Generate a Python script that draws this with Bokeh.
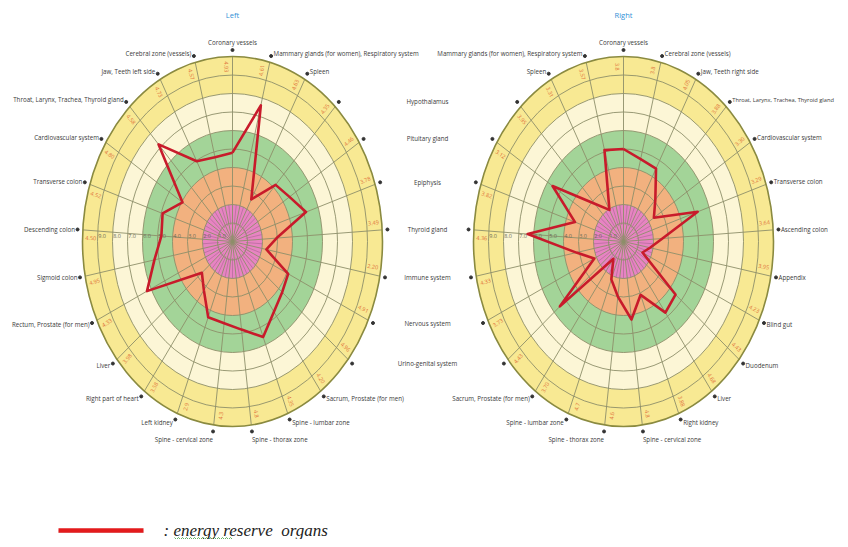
import math
import numpy as np
from bokeh.plotting import figure
from bokeh.models import Range1d, Label
from bokeh.embed import file_html
from bokeh.resources import INLINE
from bokeh.core.properties import value

# ---------------- data ----------------
left_organs = ["Coronary vessels", "Mammary glands (for women), Respiratory system", "Spleen",
               "Hypothalamus", "Pituitary gland", "Epiphysis", "Thyroid gland", "Immune system",
               "Nervous system", "Urino-genital system", "Sacrum, Prostate (for men)",
               "Spine - lumbar zone", "Spine - thorax zone", "Spine - cervical zone", "Left kidney",
               "Right part of heart", "Liver", "Rectum, Prostate (for men)", "Sigmoid colon",
               "Descending colon", "Transverse colon", "Cardiovascular system",
               "Throat, Larynx, Trachea, Thyroid gland", "Jaw, Teeth left side", "Cerebral zone (vessels)"]
left_values = [4.8, 7.6, 2.6, 4.2, 4.5, 5.15, 2.95, 2.3, 4.1, 4.3, 4.7, 5.55, 4.8, 4.45, 4.4,
               3.25, 2.65, 6.3, 5.3, 4.75, 4.9, 3.95, 7.2, 4.95, 4.7]
left_marks = ["4.93", "4.61", "4.63", "4.35", "4.46", "3.78", "3.49", "2.20", "4.91", "4.96",
              "4.20", "4.35", "4.8", "4.3", "2.9", "3.58", "3.98", "4.33", "4.95", "4.50",
              "4.52", "4.80", "4.58", "4.73", "4.57"]

right_organs = ["Coronary vessels", "Cerebral zone (vessels)", "Jaw, Teeth right side",
                "Throat, Larynx, Trachea, Thyroid gland", "Cardiovascular system", "Transverse colon",
                "Ascending colon", "Appendix", "Blind gut", "Duodenum", "Liver", "Right kidney",
                "Spine - cervical zone", "Spine - thorax zone", "Spine - lumbar zone",
                "Sacrum, Prostate (for men)", "Urino-genital system", "Nervous system", "Immune system",
                "Thyroid gland", "Epiphysis", "Pituitary gland", "Hypothalamus", "Spleen",
                "Mammary glands (for women), Respiratory system"]
right_values = [5.0, 4.6, 4.5, 3.1, 2.4, 5.2, 2.6, 1.8, 1.4, 4.5, 4.75, 3.1, 4.25, 3.0, 2.2,
                1.15, 5.5, 2.15, 3.2, 6.4, 3.4, 5.6, 2.8, 1.95, 5.1]
right_marks = ["3.8", "3.8", "4.05", "3.88", "3.30", "3.29", "3.64", "3.95", "4.23", "4.43",
               "4.68", "3.88", "4.8", "4.6", "4.7", "3.70", "4.43", "3.73", "4.33", "4.36",
               "3.82", "3.12", "3.95", "3.31", "3.57"]

ring_ticks = [9, 8, 7, 6, 5, 4, 3, 2, 1]
ring_labels = ["9.0", "8.0", "7.0", "6.0", "5.0", "4.0", "3.0", "2.0", "1.0"]
band_outer = [10, 8, 6, 4, 2]
band_colors = ["#f8e993", "#fcf6d6", "#a3d498", "#f2b17f", "#e784c2"]
r_max = 10
titles = ["Left", "Right"]
legend_label = ": energy reserve\u00a0 organs"

# ---------------- layout ----------------
W, H = 840, 539
SX, SY = 15.0, 18.5          # px per radial unit (x, y)
FONT = value("Open Sans")
LBL = 6.2                    # label font size in px


def fx(X):
    return X


def fy(Y):
    return H - Y


p = figure(width=W, height=H, x_range=Range1d(0, W), y_range=Range1d(0, H),
           toolbar_location=None, output_backend="svg", min_border=0,
           x_axis_location=None, y_axis_location=None)
p.grid.visible = False
p.outline_line_color = None
p.background_fill_color = "white"
p.border_fill_color = "white"


def pol(cx, cy, r, deg):
    t = math.radians(deg)
    return cx + r * SX * math.sin(t), cy + r * SY * math.cos(t)


def draw_chart(cx, cy, organs, vals, marks, skip_labels, title):
    n = len(organs)
    step = 360.0 / n
    for rr, col in zip(band_outer, band_colors):
        p.ellipse(x=[cx], y=[cy], width=[2 * rr * SX], height=[2 * rr * SY],
                  fill_color=col, line_color=None)
    xs, ys = [], []
    for i in range(n):
        a = (i + 0.5) * step
        x0, y0 = pol(cx, cy, 0.9, a)
        x1, y1 = pol(cx, cy, 2.0, a)
        xs.append([x0, x1]); ys.append([y0, y1])
    p.multi_line(xs, ys, line_color="#b06a98", line_width=0.7)
    rings = list(range(1, r_max))
    p.ellipse(x=[cx] * len(rings), y=[cy] * len(rings),
              width=[2 * r * SX for r in rings], height=[2 * r * SY for r in rings],
              fill_color=None, line_color="#8d8f6a", line_width=0.9)
    xs, ys = [], []
    for i in range(n):
        x1, y1 = pol(cx, cy, r_max, i * step)
        xs.append([cx, x1]); ys.append([cy, y1])
    p.multi_line(xs, ys, line_color="#8d8f6a", line_width=0.9)
    p.ellipse(x=[cx], y=[cy], width=[2 * r_max * SX], height=[2 * r_max * SY],
              fill_color=None, line_color="#8a8a40", line_width=1.6)
    p.text(x=[cx - (v - 0.3) * SX for v in ring_ticks], y=[cy + 6] * len(ring_ticks),
           text=ring_labels, text_font=FONT, text_font_size="5.5px", text_color="#6a6a55",
           text_align="center", text_baseline="middle")
    mx, my, ma = [], [], []
    for i in range(n):
        a = i * step - 2.5
        x, y = pol(cx, cy, 9.45, a)
        t = math.radians(a)
        phi = math.atan2(SY * math.cos(t), SX * math.sin(t))
        if phi > math.pi / 2:
            phi -= math.pi
        if phi < -math.pi / 2:
            phi += math.pi
        mx.append(x); my.append(y); ma.append(phi)
    p.text(x=mx, y=my, text=marks, angle=ma, text_font=FONT, text_font_size="5.5px",
           text_color="#e0703a", text_align="center", text_baseline="middle")
    px = [pol(cx, cy, v, i * step)[0] for i, v in enumerate(vals)]
    py = [pol(cx, cy, v, i * step)[1] for i, v in enumerate(vals)]
    p.line(px + px[:1], py + py[:1], line_color="#c81b2b", line_width=2.6, line_join="round")
    dx, dy = [], []
    groups = {"left": ([], [], [], []), "right": ([], [], [], []), "center": ([], [], [], [])}
    for i in range(n):
        a = i * step
        x, y = pol(cx, cy, 10.35, a)
        dx.append(x); dy.append(y)
        if i in skip_labels:
            continue
        s, c = math.sin(math.radians(a)), math.cos(math.radians(a))
        if abs(s) < 0.05:
            g = "center"; tx, ty = x, y + 8
        elif c < -0.97:
            g = "left" if s > 0 else "right"; tx, ty = x, y - 8
        elif s > 0:
            g = "left"; tx, ty = x + 2.5, y + 3 * c
        else:
            g = "right"; tx, ty = x - 2.5, y + 3 * c
        size = LBL
        if g == "left":
            est = len(organs[i]) * LBL * 0.49
            if tx + est > W - 2:
                size = LBL * (W - 2 - tx) / est
        groups[g][0].append(tx); groups[g][1].append(ty)
        groups[g][2].append(organs[i]); groups[g][3].append("%.2fpx" % size)
    p.scatter(dx, dy, size=3, color="#333333")
    for g, (gx, gy, gt, gs) in groups.items():
        if gx:
            p.text(x=gx, y=gy, text=gt, text_font=FONT, text_font_size=gs,
                   text_color="#3a3a3a", text_align=g, text_baseline="middle")
    p.text(x=[cx], y=[fy(14)], text=[title], text_font=FONT, text_font_size="7.5px",
           text_color="#2f8fd6", text_align="center", text_baseline="middle")
    return dy


cyL = fy(241)
cxL, cxR = fx(232), fx(623)
mid = list(range(3, 10))
dotsL = draw_chart(cxL, cyL, left_organs, left_values, left_marks, mid, titles[0])
draw_chart(cxR, cyL, right_organs, right_values, right_marks, list(range(16, 23)), titles[1])

p.text(x=[fx(427)] * len(mid), y=[dotsL[i] for i in mid], text=[left_organs[i] for i in mid],
       text_font=FONT, text_font_size="%.1fpx" % LBL, text_color="#3a3a3a",
       text_align="center", text_baseline="middle")

# legend
p.line([fx(58), fx(143)], [fy(531), fy(531)], line_color="#bdbdbd", line_width=3, alpha=0.5)
p.line([fx(58), fx(143)], [fy(530), fy(530)], line_color="#e31a1c", line_width=4.5)
p.add_layout(Label(x=fx(163), y=fy(530), text=legend_label, text_font="Liberation Serif",
                   text_font_style="italic", text_font_size="17px", text_color="#222222",
                   text_align="left", text_baseline="middle"))
wx = np.arange(fx(174), fx(234), 2.0)
wy = np.where(np.arange(len(wx)) % 2 == 0, fy(537), fy(539))
p.line(wx, wy, line_color="#3c9a3c", line_width=0.8)

open("out.html", "w").write(file_html(p, INLINE))
